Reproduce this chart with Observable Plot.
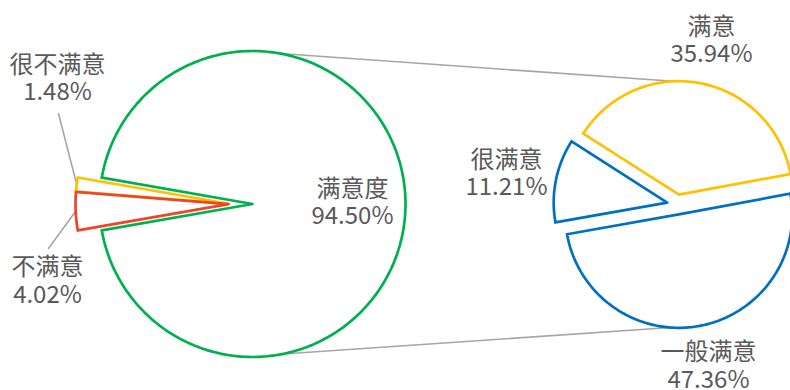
<!DOCTYPE html>
<html><head><meta charset="utf-8">
<script src="https://cdn.jsdelivr.net/npm/d3@7"></script>
<script src="https://cdn.jsdelivr.net/npm/@observablehq/plot@0.6"></script>
<style>html,body{margin:0;padding:0;background:#fff;overflow:hidden}</style>
</head><body><div id="chart"></div>
<script>
// ---- data ----
const mainCats = ["满意度", "很不满意", "不满意"];
const mainVals = [94.50, 1.48, 4.02];
const subCats = ["满意", "很满意", "一般满意"];
const subVals = [35.94, 11.21, 47.36];

// ---- layout / style ----
const W = 790, H = 390;
const colors = {"满意度":"#00B050","很不满意":"#FFC000","不满意":"#EB4628",
                "满意":"#FFC000","很满意":"#0070C0","一般满意":"#0070C0"};
const mainPie = {cx: 252, cy: 203.5, r: 153, groupExplode: 22, ownExplode: 2};
const subPie  = {cx: 676.5, cy: 204, r: 113.5, start: 10.5, explode: 10};
const labelPos = {
  "满意度":[352,202.5], "很不满意":[57,78.5], "不满意":[47,281],
  "满意":[711,40.5], "很满意":[506,173.5], "一般满意":[708,366]
};
const lineGap = 27.6;
const leaderFrom = {"很不满意":[58,113], "不满意":[48,248]};
const connectorAngles = [ {main: 79.5, sub: "满意", subAngle: 92.7},
                          {main: -78.5, sub: "一般满意", subAngle: 266} ];

const rad = a => a * Math.PI / 180;
const pt = (cx, cy, r, a) => ({x: cx + r * Math.cos(rad(a)), y: cy - r * Math.sin(rad(a))});

// ---- build slices ----
const slices = [];
{
  let a = -mainVals[0] * 3.6 / 2;
  mainCats.forEach((c, i) => {
    const a0 = a, a1 = a + mainVals[i] * 3.6; a = a1;
    const mid = (a0 + a1) / 2;
    let cx = mainPie.cx, cy = mainPie.cy;
    if (i > 0) {
      cx += -mainPie.groupExplode + mainPie.ownExplode * Math.cos(rad(mid));
      cy += -mainPie.ownExplode * Math.sin(rad(mid));
    }
    slices.push({cat: c, value: mainVals[i], a0, a1, mid, cx, cy, r: mainPie.r});
  });
}
{
  const total = d3.sum(subVals);
  let a = subPie.start;
  subCats.forEach((c, i) => {
    const a0 = a, a1 = a + subVals[i] / total * 360; a = a1;
    const mid = (a0 + a1) / 2;
    const cx = subPie.cx + subPie.explode * Math.cos(rad(mid));
    const cy = subPie.cy - subPie.explode * Math.sin(rad(mid));
    slices.push({cat: c, value: subVals[i], a0, a1, mid, cx, cy, r: subPie.r});
  });
}
const slicePts = [];
slices.forEach(s => {
  slicePts.push({cat: s.cat, x: s.cx, y: s.cy});
  const n = Math.max(2, Math.ceil(Math.abs(s.a1 - s.a0)));
  for (let k = 0; k <= n; k++) {
    const p = pt(s.cx, s.cy, s.r, s.a0 + (s.a1 - s.a0) * k / n);
    slicePts.push({cat: s.cat, ...p});
  }
  slicePts.push({cat: s.cat, x: s.cx, y: s.cy});
});
const byCat = Object.fromEntries(slices.map(s => [s.cat, s]));

// connectors between the pies
const connectors = [];
connectorAngles.forEach((c, i) => {
  const p1 = pt(mainPie.cx, mainPie.cy, mainPie.r, c.main);
  const s = byCat[c.sub];
  const p2 = pt(s.cx, s.cy, s.r, c.subAngle);
  connectors.push({id: i, ...p1}, {id: i, ...p2});
});
// leader lines
const leaders = [];
Object.entries(leaderFrom).forEach(([cat, [x, y]]) => {
  const s = byCat[cat];
  const p = pt(s.cx, s.cy, s.r, s.mid);
  leaders.push({id: cat, x, y}, {id: cat, ...p});
});

const nameLabels = slices.map(s => ({text: s.cat, x: labelPos[s.cat][0], y: labelPos[s.cat][1] - lineGap / 2}));
const valueLabels = slices.map(s => ({text: `${s.value.toFixed(2)}%`, x: labelPos[s.cat][0], y: labelPos[s.cat][1] + lineGap / 2}));
const textStyle = {x: "x", y: "y", text: "text", fontSize: 24, fill: "#595959",
  fontFamily: "'Noto Sans CJK SC', 'Noto Sans', sans-serif", textAnchor: "middle"};

const chart = Plot.plot({
  width: W, height: H, margin: 0,
  x: {domain: [0, W], range: [0, W], axis: null},
  y: {domain: [0, H], range: [0, H], axis: null},
  color: {type: "identity"},
  marks: [
    Plot.line(connectors, {x: "x", y: "y", z: "id", stroke: "#A6A6A6", strokeWidth: 1.6}),
    Plot.line(leaders, {x: "x", y: "y", z: "id", stroke: "#A6A6A6", strokeWidth: 1.6}),
    Plot.line(slicePts, {x: "x", y: "y", z: "cat", stroke: d => colors[d.cat],
      strokeWidth: 2.7, strokeLinejoin: "miter", strokeMiterlimit: 6}),
    Plot.text(nameLabels, textStyle),
    Plot.text(valueLabels, textStyle)
  ]
});
document.getElementById("chart").appendChild(chart);
</script>
</body></html>
